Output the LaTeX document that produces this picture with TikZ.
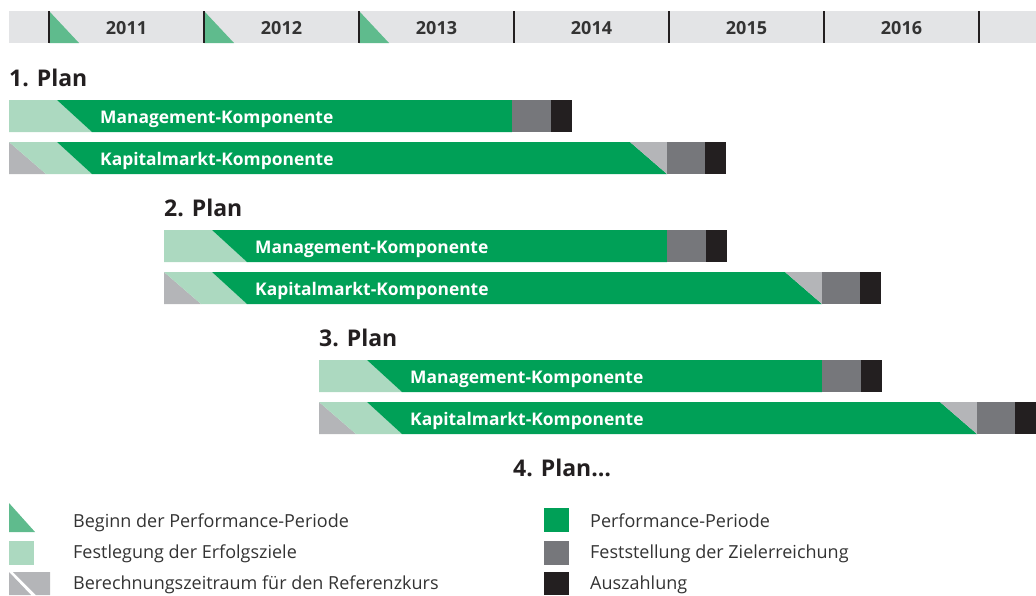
\documentclass[tikz,border=0pt]{standalone}
\usepackage{fontspec}
\setmainfont{Open Sans}
\definecolor{bandgray}{HTML}{E3E4E6}
\definecolor{trigreen}{HTML}{5FBB8D}
\definecolor{lightgreen}{HTML}{ACD9C0}
\definecolor{maingreen}{HTML}{00A057}
\definecolor{lightgray}{HTML}{B4B5B8}
\definecolor{midgray}{HTML}{76777B}
\definecolor{nearblack}{HTML}{231F20}
\definecolor{txt}{HTML}{333333}
\tikzset{
  yeartext/.style={font=\bfseries\fontsize{18}{21}\selectfont, text=txt, inner sep=0pt, anchor=base},
  plantitle/.style={font=\bfseries\fontsize{23}{26}\selectfont, text=nearblack, inner sep=0pt, anchor=base west},
  bartext/.style={font=\bfseries\fontsize{17.4}{20}\selectfont, text=white, inner sep=0pt, anchor=base west},
  legtext/.style={font=\fontsize{18}{21}\selectfont, text=txt, inner sep=0pt, anchor=base west},
  divider/.style={draw=nearblack, line width=1.3pt},
}
% Management bar: #1 start x, #2 top y, #3 green end, #4 name
\newcommand{\mgmtbar}[4]{%
  \fill[lightgreen] (#1,#2) -- ({#1+48},#2) -- ({#1+83},{#2+32}) -- (#1,{#2+32}) -- cycle;
  \fill[maingreen] ({#1+48},#2) -- (#3,#2) -- (#3,{#2+32}) -- ({#1+83},{#2+32}) -- cycle;
  \fill[midgray] (#3,#2) rectangle ({#3+39},{#2+32});
  \fill[nearblack] ({#3+39},#2) rectangle ({#3+60},{#2+32});
  \node[bartext] (#4) at ({#1+91},{#2+23}) {Management-Komponente};
}
% Kapitalmarkt bar: #1 start x, #2 top y, #3 green top end, #4 name
\newcommand{\kapbar}[4]{%
  \fill[lightgray] (#1,#2) -- ({#1+37},{#2+32}) -- (#1,{#2+32}) -- cycle;
  \fill[lightgreen] (#1,#2) -- ({#1+48},#2) -- ({#1+83},{#2+32}) -- ({#1+37},{#2+32}) -- cycle;
  \fill[maingreen] ({#1+48},#2) -- (#3,#2) -- ({#3+37},{#2+32}) -- ({#1+83},{#2+32}) -- cycle;
  \fill[lightgray] (#3,#2) -- ({#3+37},#2) -- ({#3+37},{#2+32}) -- cycle;
  \fill[midgray] ({#3+37},#2) rectangle ({#3+75},{#2+32});
  \fill[nearblack] ({#3+75},#2) rectangle ({#3+96},{#2+32});
  \node[bartext] (#4) at ({#1+91},{#2+23}) {Kapitalmarkt-Komponente};
}
\begin{document}
\begin{tikzpicture}[x=1pt,y=-1pt]
\useasboundingbox (0,0) rectangle (1036,595);
% header band
\fill[bandgray] (9,11) rectangle (1036,43);
\foreach \i in {0,1,2} {
  \fill[trigreen] ({49+155*\i},11) -- ({49+155*\i},43) -- ({79+155*\i},43) -- cycle;
}
\foreach \i in {0,...,6} {
  \draw[divider] ({49+155*\i},11) -- ({49+155*\i},43);
}
\foreach \y [count=\i from 0] in {2011,2012,2013,2014,2015,2016} {
  \node[yeartext] (y\y) at ({126.5+155*\i},34) {\y};
}
% plans
\node[plantitle] (p1) at (9,86) {1. Plan};
\mgmtbar{9}{100}{512}{m1}
\kapbar{9}{142}{630}{k1}
\node[plantitle] (p2) at (164,216) {2. Plan};
\mgmtbar{164}{230}{667}{m2}
\kapbar{164}{272}{785}{k2}
\node[plantitle] (p3) at (319,346) {3. Plan};
\mgmtbar{319}{360}{822}{m3}
\kapbar{319}{402}{940}{k3}
\node[plantitle] (p4) at (513,476) {4. Plan\ldots};
% legend
\fill[trigreen] (9,503) -- (9,532) -- (35,532) -- cycle;
\fill[lightgreen] (9,541) rectangle (34,565);
\fill[lightgray] (9,572) -- (31,595) -- (9,595) -- cycle;
\fill[lightgray] (13,572) -- (50,572) -- (50,595) -- (36,595) -- cycle;
\node[legtext] (l1) at (73,527) {Beginn der Performance-Periode};
\node[legtext] (l2) at (73,558) {Festlegung der Erfolgsziele};
\node[legtext] (l3) at (73,589) {Berechnungszeitraum für den Referenzkurs};
\fill[maingreen] (544,508) rectangle (569,532);
\fill[midgray] (544,541) rectangle (569,565);
\fill[nearblack] (544,572) rectangle (569,595);
\node[legtext] (l4) at (590,527) {Performance-Periode};
\node[legtext] (l5) at (590,558) {Feststellung der Zielerreichung};
\node[legtext] (l6) at (590,589) {Auszahlung};
\end{tikzpicture}
\end{document}
